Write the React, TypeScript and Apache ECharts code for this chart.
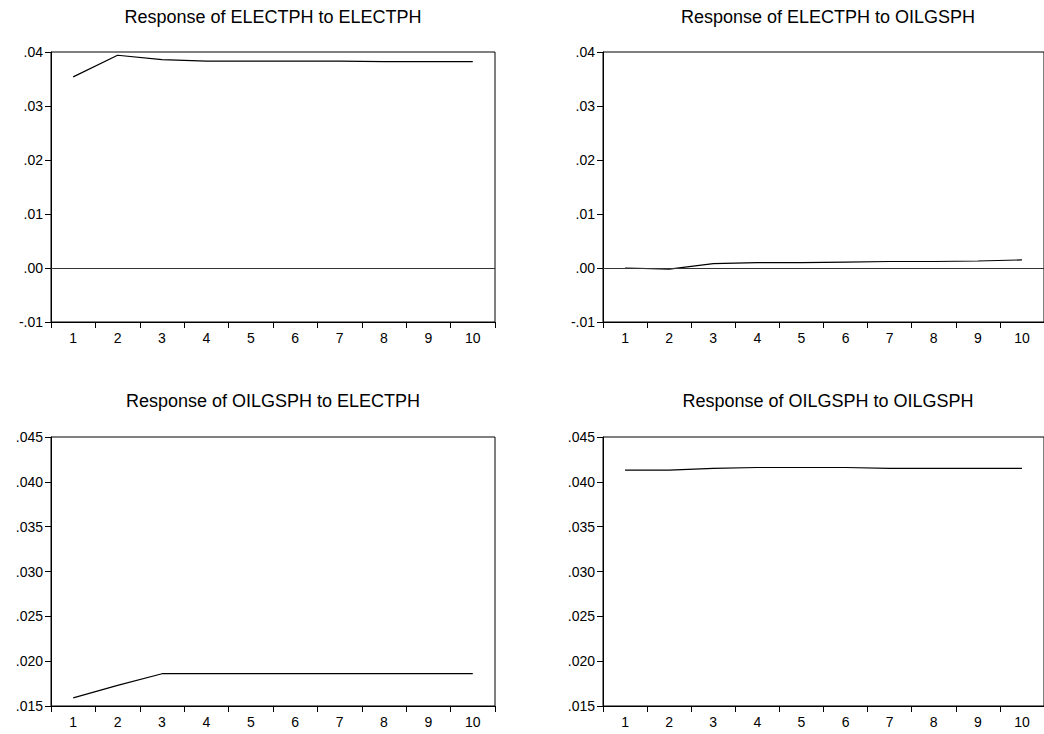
import React, { useEffect, useRef } from "react";
import * as echarts from "echarts";

const periods = ["1", "2", "3", "4", "5", "6", "7", "8", "9", "10"];
const titles = [
  "Response of ELECTPH to ELECTPH",
  "Response of ELECTPH to OILGSPH",
  "Response of OILGSPH to ELECTPH",
  "Response of OILGSPH to OILGSPH",
];
const elecToElec = [0.0354, 0.0394, 0.0386, 0.0383, 0.0383, 0.0383, 0.0383, 0.0382, 0.0382, 0.0382];
const elecToOil = [0.0, -0.0002, 0.0008, 0.001, 0.001, 0.0011, 0.0012, 0.0012, 0.0013, 0.0015];
const oilToElec = [0.0159, 0.0173, 0.0186, 0.0186, 0.0186, 0.0186, 0.0186, 0.0186, 0.0186, 0.0186];
const oilToOil = [0.0413, 0.0413, 0.0415, 0.0416, 0.0416, 0.0416, 0.0415, 0.0415, 0.0415, 0.0415];
const topAxis = { min: -0.01, max: 0.04, interval: 0.01, decimals: 2 };
const bottomAxis = { min: 0.015, max: 0.045, interval: 0.005, decimals: 3 };

const FONT = "'Liberation Sans', Arial, sans-serif";

export default function App() {
  const ref = useRef<HTMLDivElement>(null);
  useEffect(() => {
    if (!ref.current) return;
    const chart = echarts.init(ref.current, null, { renderer: "svg" });
    const grids = [
      { left: 51, top: 52, width: 444, height: 270 },
      { left: 603, top: 52, width: 450, height: 270 },
      { left: 51, top: 437, width: 444, height: 269 },
      { left: 603, top: 437, width: 450, height: 269 },
    ];
    const seriesData = [elecToElec, elecToOil, oilToElec, oilToOil];
    const axes = [topAxis, topAxis, bottomAxis, bottomAxis];
    const titleY = [8, 8, 392, 392];
    const fmt = (d: number) => (v: number) => {
      const s = Number(v).toFixed(d);
      return s.replace("0.", ".");
    };
    chart.setOption({
      animation: false,
      backgroundColor: "#ffffff",
      graphic: grids.map((g, i) => ({
        type: "text",
        x: g.left + g.width / 2,
        y: titleY[i],
        style: {
          text: titles[i],
          fontSize: 18,
          fontFamily: FONT,
          fill: "#000",
          textAlign: "center",
          textVerticalAlign: "top",
        },
      })),
      grid: grids.map((g) => ({
        ...g,
        show: true,
        borderColor: "#000",
        borderWidth: 1,
        backgroundColor: "transparent",
      })),
      xAxis: grids.map((_, i) => ({
        type: "category",
        gridIndex: i,
        data: periods,
        boundaryGap: true,
        axisLine: { show: true, onZero: false, lineStyle: { color: "#000", width: 1 } },
        axisTick: { show: true, length: 6, inside: false, lineStyle: { color: "#000" } },
        axisLabel: { color: "#000", fontSize: 14, fontFamily: FONT, margin: 9 },
        splitLine: { show: false },
      })),
      yAxis: grids.map((_, i) => ({
        type: "value",
        gridIndex: i,
        min: axes[i].min,
        max: axes[i].max,
        interval: axes[i].interval,
        axisLine: { show: true, lineStyle: { color: "#000", width: 1 } },
        axisTick: { show: true, length: 6, inside: false, lineStyle: { color: "#000" } },
        axisLabel: {
          color: "#000",
          fontSize: 14,
          fontFamily: FONT,
          margin: 8,
          formatter: fmt(axes[i].decimals),
        },
        splitLine: { show: false },
      })),
      series: seriesData.map((d, i) => ({
        type: "line",
        xAxisIndex: i,
        yAxisIndex: i,
        data: d,
        symbol: "none",
        lineStyle: { color: "#000", width: 1.2 },
        markLine:
          i < 2
            ? {
                silent: true,
                symbol: "none",
                label: { show: false },
                lineStyle: { color: "#333", width: 1, type: "solid" },
                data: [{ yAxis: 0 }],
              }
            : undefined,
      })),
    });
    return () => chart.dispose();
  }, []);
  return (
    <div
      ref={ref}
      style={{ position: "fixed", left: 0, top: 0, width: 1044, height: 734, background: "#fff" }}
    />
  );
}
